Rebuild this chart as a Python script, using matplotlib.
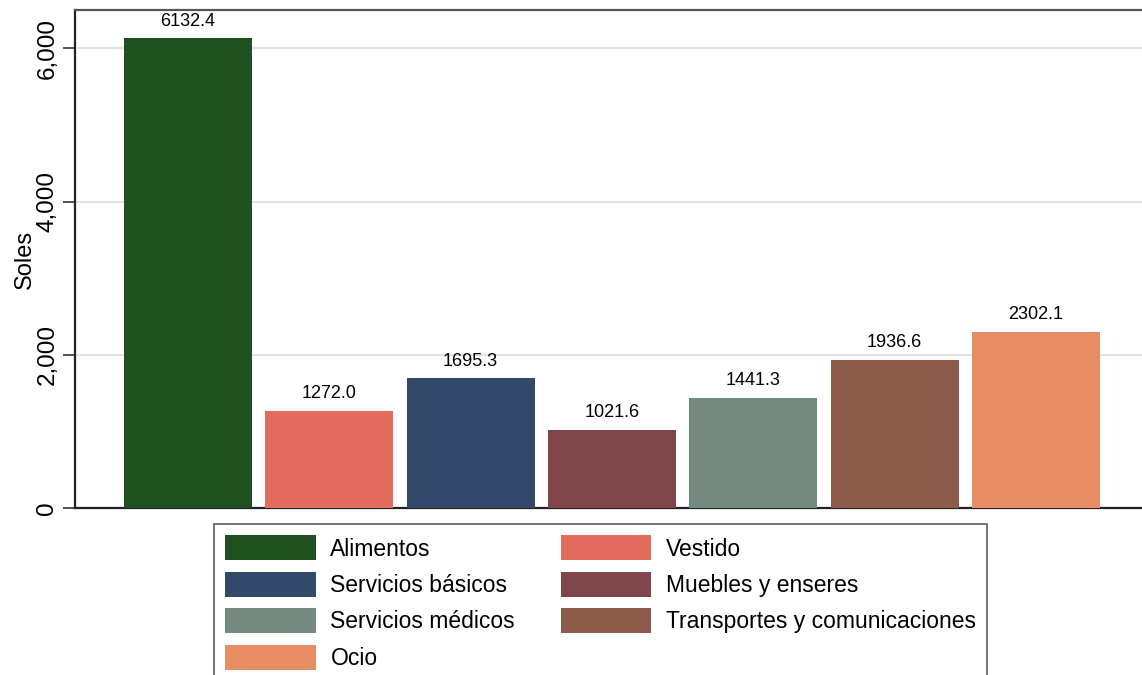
import matplotlib
matplotlib.use("Agg")
import matplotlib.pyplot as plt
from matplotlib.patches import Patch

plt.rcParams["font.family"] = ["Liberation Sans", "DejaVu Sans"]

# datos
categorias = ["Alimentos", "Vestido", "Servicios básicos", "Muebles y enseres",
              "Servicios médicos", "Transportes y comunicaciones", "Ocio"]
valores = [6132.4, 1272.0, 1695.3, 1021.6, 1441.3, 1936.6, 2302.1]
colores = ["#20501f", "#e36c5e", "#33496a", "#7f454a", "#748a80", "#8d5b4a", "#e68d65"]
yticks = [0, 2000, 4000, 6000]
ytick_labels = ["0", "2,000", "4,000", "6,000"]

fig = plt.figure(figsize=(11.42, 6.75), dpi=100)
ax = fig.add_axes([75 / 1142, 1 - 508 / 675, 1074 / 1142, 498 / 675])

x = list(range(len(valores)))
ax.bar(x, valores, width=0.906, color=colores, zorder=3)
for xi, v in zip(x, valores):
    ax.text(xi, v + 110, f"{v:.1f}", ha="center", va="bottom", fontsize=13)

ax.set_xlim(-0.80, 6.80)
ax.set_ylim(0, 6500)
ax.set_xticks([])
ax.set_yticks(yticks)
ax.set_yticklabels(ytick_labels, rotation=90, va="center", fontsize=17.5)
ax.tick_params(axis="y", length=9, width=1.2, color="#333333", pad=3)
ax.grid(axis="y", color="#e2e2e2", linewidth=1.5, zorder=0)
ax.set_ylabel("Soles", fontsize=17, labelpad=0)

for s in ["left", "bottom"]:
    ax.spines[s].set_color("#222222")
    ax.spines[s].set_linewidth(1.6)
ax.spines["top"].set_color("#555555")
ax.spines["top"].set_linewidth(1.6)
ax.spines["right"].set_visible(False)

# leyenda: dos columnas, orden por filas
orden = [0, 2, 4, 6, 1, 3, 5]
handles = [Patch(facecolor=colores[i], label=categorias[i]) for i in orden]
leg = fig.legend(handles=handles, ncol=2, loc="upper left",
                 bbox_to_anchor=(214 / 1142, 1 - 524 / 675),
                 fontsize=16.5, frameon=True, fancybox=False,
                 edgecolor="#333333", handlelength=3.93, handleheight=1.3,
                 labelspacing=0.49, columnspacing=1.99, handletextpad=0.65,
                 borderpad=0.5, borderaxespad=0)
leg.get_frame().set_linewidth(1.2)

plt.savefig("out.png", dpi=100)
